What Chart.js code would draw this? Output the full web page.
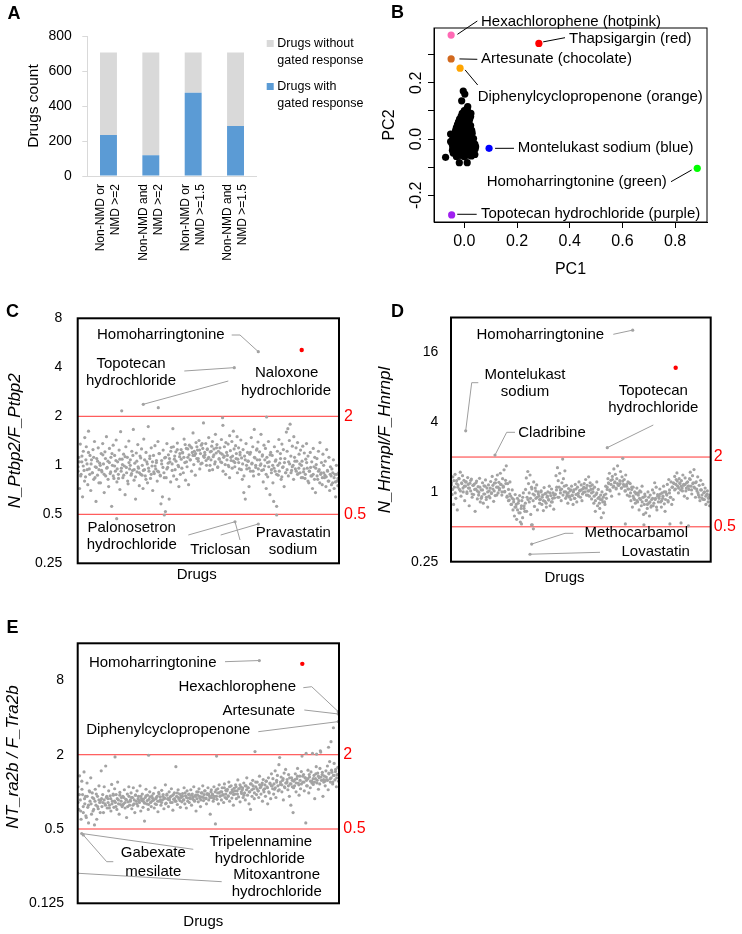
<!DOCTYPE html>
<html><head><meta charset="utf-8">
<script src="https://cdn.jsdelivr.net/npm/chart.js@4.4.1/dist/chart.umd.min.js"></script>
<style>
html,body{margin:0;padding:0;background:#fff;}
#wrap{position:relative;width:742px;height:934px;overflow:hidden;}
#wrap canvas{position:absolute;left:0;top:0;}
</style></head><body>
<div id="wrap">
<canvas id="cA" width="742" height="934"></canvas>
<canvas id="cB" width="742" height="934"></canvas>
<canvas id="cC" width="742" height="934"></canvas>
<canvas id="cD" width="742" height="934"></canvas>
<canvas id="cE" width="742" height="934"></canvas>
</div>
<script>
// ---------------- DATA ----------------
// Panel A
const aCategories = [['Non-NMD or','NMD >=2'],['Non-NMD and','NMD >=2'],['Non-NMD or','NMD >=1.5'],['Non-NMD and','NMD >=1.5']];
const aWithGated = [234, 118, 476, 286];
const aWithoutGated = [472, 588, 230, 420];
const aTicks = [0, 200, 400, 600, 800];

// Panel B (PCA)
const pcClusterX = [-0.030,-0.016,0.000,0.014,0.027, -0.042,-0.030,-0.018,-0.005,0.008,0.020,0.034,
 -0.045,-0.033,-0.020,-0.008,0.005,0.017,0.030,0.041, -0.044,-0.032,-0.020,-0.007,0.006,0.019,0.031,0.043,
 -0.046,-0.034,-0.021,-0.009,0.004,0.016,0.029,0.040, -0.052,-0.043,-0.031,-0.018,-0.006,0.007,0.020,0.033,
 -0.044,-0.030,-0.017,-0.004,0.009,0.022,0.035, -0.040,-0.027,-0.014,-0.001,0.012,0.025,
 -0.052,-0.036,-0.022,-0.009,0.004,0.017,0.030, -0.033,-0.020,-0.007,0.006,0.019,0.028,
 -0.030,-0.017,-0.004,0.009,0.022, -0.026,-0.013,0.000,0.013,0.024, -0.022,-0.009,0.004,0.017,
 -0.018,-0.005,0.008,0.020, -0.012,0.001,0.014,0.024, -0.008,0.005,0.018,0.025, 0.000,0.012,
 0.013,-0.010,-0.004,0.002,0.010, -0.071,-0.019,0.011,0.040];
const pcClusterY = [-0.062,-0.058,-0.063,-0.057,-0.060, -0.050,-0.047,-0.052,-0.049,-0.053,-0.046,-0.050,
 -0.040,-0.037,-0.042,-0.039,-0.036,-0.041,-0.038,-0.035, -0.028,-0.031,-0.027,-0.030,-0.026,-0.029,-0.032,-0.027,
 -0.018,-0.021,-0.017,-0.020,-0.016,-0.019,-0.022,-0.018, -0.009,-0.008,-0.011,-0.007,-0.010,-0.006,-0.009,-0.012,
 0.001,-0.002,0.002,0.000,0.003,-0.001,0.002, 0.011,0.009,0.012,0.010,0.008,0.011,
 0.018,0.021,0.019,0.022,0.020,0.018,0.021, 0.031,0.029,0.032,0.030,0.028,0.031,
 0.041,0.039,0.042,0.040,0.038, 0.051,0.049,0.052,0.050,0.048, 0.061,0.059,0.062,0.060,
 0.071,0.069,0.072,0.070, 0.081,0.079,0.082,0.080, 0.091,0.089,0.092,0.091, 0.101,0.099,
 0.115,0.136,0.171,0.160,0.108, -0.065,-0.084,-0.084,-0.055];
const pcNamed = ['Hexachlorophene (hotpink)','Thapsigargin (red)','Artesunate (chocolate)','Diphenylcyclopropenone (orange)','Montelukast sodium (blue)','Homoharringtonine (green)','Topotecan hydrochloride (purple)'];
const pcNamedX = [-0.050, 0.283, -0.050, -0.016, 0.094, 0.884, -0.048];
const pcNamedY = [0.370, 0.340, 0.285, 0.252, -0.033, -0.104, -0.270];
const pcNamedColors = ['#ff69b4','#ff0000','#d2691e','#ffa500','#0000ff','#00ff00','#a020f0'];
const pcXTicks = [0, 0.2, 0.4, 0.6, 0.8];
const pcYTicks = [-0.2, -0.1, 0, 0.1, 0.2, 0.3];
const pcYLabelled = [-0.2, 0, 0.2];

// Panels C, D, E : ratio per drug (drug index 0..700)
const thresholds = [0.5, 2];
const cTicks = [0.25, 0.5, 1, 2, 4, 8];
const dTicks = [0.25, 1, 4, 16];
const eTicks = [0.125, 0.5, 2, 8];

const cRatios = [
0.98,1.12,0.72,1.35,0.88,1.05,0.64,1.22,0.93,1.48, 0.85,1.30,1.02,0.76,1.62,0.95,1.15,0.70,1.08,0.90,
1.25,0.82,1.40,0.98,0.60,1.10,0.87,1.28,0.94,1.03, 0.78,1.18,0.91,1.36,1.02,0.68,1.21,0.86,1.50,0.97,
1.06,0.74,1.27,0.89,1.12,0.56,1.00,1.33,0.83,1.15, 0.92,1.43,0.79,1.05,0.88,1.24,0.71,1.61,0.96,1.09,
0.84,1.17,0.99,0.66,1.30,0.90,1.12,0.77,1.41,0.95, 1.08,0.87,1.22,0.93,1.66,0.81,1.03,0.62,1.19,0.91,
1.34,0.96,0.75,1.14,0.88,1.26,1.00,0.72,1.45,0.94, 0.86,1.20,1.05,0.78,1.73,0.92,1.10,0.83,1.28,0.99,
0.70,1.15,0.89,1.32,0.95,1.07,0.80,1.40,0.91,1.18, 0.87,0.58,1.02,0.64,1.24,0.90,1.11,0.52,0.84,1.36,
0.97,1.16,0.62,1.05,0.79,1.29,0.93,1.68,0.86,1.09, 0.94,1.21,0.82,1.37,1.00,0.74,1.13,0.88,1.25,0.96,
1.19,0.90,1.45,1.04,0.81,1.27,0.98,1.12,0.76,1.33, 1.08,1.30,0.92,1.20,1.58,1.01,1.15,0.87,1.38,1.10,
1.24,1.06,1.42,0.95,1.18,1.33,1.03,1.27,1.82,1.12, 1.16,1.36,1.00,1.25,1.10,1.48,0.93,1.21,1.08,1.31,
1.40,1.13,1.26,1.02,1.55,1.19,1.34,0.97,1.22,1.09, 1.28,1.05,1.44,1.17,1.76,1.12,1.30,1.01,1.38,1.20,
1.15,1.35,0.98,1.52,1.23,1.07,1.40,1.14,1.62,1.26, 1.04,1.32,1.18,1.50,1.09,1.28,0.95,1.20,1.43,1.11,
0.82,1.25,0.68,1.14,0.62,1.36,0.95,1.20,1.06,0.74, 1.17,0.92,1.48,1.03,1.30,0.86,1.66,1.11,0.97,1.24,
1.08,1.39,0.88,1.21,1.00,1.55,0.93,1.16,0.79,1.33, 0.99,1.27,0.72,1.12,0.85,1.40,1.05,0.66,1.20,0.94,
1.15,0.78,0.60,1.30,0.92,1.08,0.56,1.22,0.87,1.44, 1.03,1.18,0.82,1.35,0.97,1.25,0.74,1.10,0.90,1.60,
1.22,1.68,1.05,1.42,1.79,1.14,0.93,1.31,1.00,1.50, 1.12,0.95,1.28,1.06,1.38,0.89,1.17,1.02,1.24,0.84,
1.06,1.31,0.91,1.19,0.83,1.09,1.36,0.96,1.14,0.78, 0.92,1.20,0.86,1.05,0.72,1.27,0.98,1.12,0.68,1.01,
1.10,0.82,1.22,0.94,1.38,0.88,1.04,0.76,1.17,0.90, 0.84,1.06,0.74,1.25,0.93,0.80,1.12,0.70,0.98,0.86,
0.95,0.78,1.08,0.72,0.88,0.64,1.00,0.80,0.75,0.90];
const cRatiosCore = [
0.92,1.05,0.86,1.14,0.99,0.80,1.08,0.94,1.20,0.88, 1.02,0.90,1.12,0.84,0.97,1.06,0.78,1.00,0.93,1.16,
0.88,1.10,0.96,0.82,1.04,0.91,1.18,0.86,0.99,1.07, 0.95,0.83,1.09,0.92,1.01,0.87,1.13,0.97,0.80,1.04,
1.00,0.89,1.15,0.94,0.85,1.06,0.98,0.90,1.11,0.87, 0.93,1.08,0.82,1.02,0.96,1.14,0.88,1.05,0.91,0.99,
1.04,0.92,1.18,0.86,1.07,0.97,0.84,1.12,0.95,1.03, 1.10,1.22,1.02,1.30,1.14,1.06,1.25,0.98,1.18,1.09,
1.20,1.12,1.34,1.05,1.26,1.16,1.08,1.28,1.15,1.22, 1.18,1.30,1.10,1.24,1.02,1.36,1.14,1.20,1.07,1.26,
1.12,1.00,1.22,0.94,1.16,1.05,1.28,0.98,1.10,1.19, 1.04,0.92,1.14,0.88,1.08,1.00,0.84,1.12,0.96,1.06,
0.98,1.10,0.90,1.04,1.16,0.94,1.02,0.86,1.08,1.00, 1.06,0.96,1.20,1.02,0.92,1.12,1.00,1.26,0.95,1.08,
1.02,1.14,0.94,1.08,0.88,1.04,0.98,1.16,0.90,1.00, 0.96,1.06,0.88,1.00,0.92,1.10,0.85,0.98,1.04,0.90,
0.94,0.86,1.02,0.90,0.98,0.82,1.06,0.92,0.88,0.96, 0.90,1.00,0.84,0.95,0.88,1.04,0.80,0.92,0.97,0.86,
0.88,0.82,0.96,0.86,0.92,0.78,0.90,0.84,1.00,0.87, 0.85,0.92,0.80,0.88,0.76,0.90,0.84,0.79,0.88,0.83];
const cExtraIdx = [117.9, 215.9, 175.7, 388, 506, 104.5, 232, 533, 421.4, 483.8, 483.8, 419.5];
const cExtraVal = [2.16, 2.26, 2.37, 1.96, 1.98, 0.47, 0.495, 0.495, 0.45, 0.436, 4.99, 3.98];
const cRedIdx = [600.1], cRedVal = [5.11];

const dRatios = [
1.20,0.95,1.35,0.78,1.10,1.42,0.88,1.25,0.70,1.15, 1.30,1.05,1.48,0.92,1.18,1.38,1.00,1.26,0.84,1.12,
1.22,0.97,1.33,1.08,0.76,1.19,1.02,1.29,0.90,1.14, 0.95,1.17,0.68,1.06,1.24,0.87,1.11,0.99,1.31,0.82,
1.04,0.91,1.20,0.80,1.13,0.96,1.27,0.86,1.08,0.74, 1.15,1.02,0.89,1.23,0.97,1.36,1.06,0.83,1.19,0.93,
1.28,1.10,1.40,0.98,1.21,1.07,1.45,1.16,0.94,1.30, 1.12,1.55,1.01,1.26,1.68,0.90,1.18,1.05,0.85,1.22,
0.92,0.78,1.04,0.70,0.86,0.62,0.95,0.74,0.58,0.88, 0.80,0.66,0.93,0.55,0.72,0.84,0.60,0.98,0.76,0.68,
1.05,1.32,0.90,1.50,1.18,0.82,1.40,0.64,1.10,0.52, 0.96,1.22,0.75,1.08,0.88,1.15,0.70,1.00,0.92,0.80,
0.86,1.02,0.78,0.94,0.69,1.09,0.83,0.97,0.74,0.90, 1.00,0.85,1.12,0.76,0.93,1.06,0.82,0.98,0.71,0.89,
0.95,1.38,1.10,1.62,1.25,0.90,1.45,1.04,0.84,1.20, 1.92,1.30,1.00,1.52,0.88,1.14,0.96,0.80,1.07,0.92,
1.02,0.86,1.12,0.93,0.78,1.04,0.88,1.16,0.95,0.82, 1.10,0.97,1.22,1.03,0.90,1.15,0.84,1.06,0.99,1.18,
1.08,1.28,0.94,1.14,1.02,1.35,0.92,1.20,1.05,0.87, 1.15,1.00,0.80,1.10,0.68,0.95,1.22,0.76,1.05,0.90,
0.72,0.86,0.60,1.00,0.82,0.66,0.94,0.78,1.12,0.88, 1.05,1.30,1.18,1.45,1.02,1.26,0.92,1.36,1.10,1.58,
1.20,1.42,1.06,1.30,1.68,1.14,0.96,1.25,1.50,1.08, 1.35,1.95,1.16,1.28,1.02,1.40,1.12,0.94,1.22,1.06,
0.92,1.18,0.84,1.05,0.74,1.10,0.88,1.00,0.80,0.96, 1.08,0.82,0.98,0.70,1.02,0.86,0.76,1.12,0.90,0.64,
0.78,0.92,0.66,0.85,0.72,1.00,0.80,0.62,0.94,0.74, 0.86,1.04,0.76,0.98,1.20,0.88,1.10,0.70,0.95,0.82,
0.92,1.06,0.82,0.74,0.98,0.88,1.12,0.79,0.68,1.00, 0.96,1.16,0.84,1.28,1.04,0.90,1.22,0.78,1.10,0.86,
1.18,1.36,1.06,1.28,1.46,1.12,0.98,1.30,1.20,1.04, 1.25,1.08,1.40,1.16,0.92,1.32,1.02,1.20,0.88,1.12,
1.05,1.30,1.48,1.12,0.96,1.38,1.20,1.56,1.08,0.90, 1.22,1.02,1.35,0.94,1.14,0.84,1.26,1.04,0.88,1.16,
0.98,0.86,1.08,0.78,0.94,1.02,0.82,0.90,0.76,0.92];
const dRatiosCore = [
1.15,1.05,1.25,0.98,1.18,1.10,1.30,1.02,1.20,1.08, 1.12,1.22,1.00,1.16,1.08,1.26,0.96,1.14,1.05,1.20,
1.02,0.94,1.10,0.88,1.04,0.96,1.12,0.90,1.00,0.92, 1.08,0.98,1.14,1.02,1.20,0.94,1.10,1.04,1.16,1.00,
1.10,1.00,1.18,0.92,0.84,0.96,0.78,0.88,0.82,0.74, 0.78,0.70,0.84,0.66,0.76,0.90,0.72,0.80,0.68,0.86,
0.98,0.88,1.06,0.84,0.94,1.02,0.90,0.96,0.86,1.00, 0.90,0.84,0.96,0.80,0.92,0.86,0.98,0.82,0.88,0.94,
0.96,1.04,0.90,1.10,0.98,1.06,0.94,1.12,1.00,0.92, 0.98,0.90,1.04,0.94,1.00,0.88,1.06,0.96,0.92,1.02,
1.04,0.96,1.10,1.00,1.08,0.94,1.02,1.12,0.98,1.06, 0.92,0.84,0.98,0.88,0.80,0.94,0.86,0.90,0.82,0.96,
1.10,1.20,1.04,1.16,1.28,1.12,1.22,1.08,1.18,1.14, 1.18,1.08,1.24,1.12,1.02,1.16,1.06,1.20,0.98,1.10,
0.92,0.86,0.98,0.84,0.94,0.88,1.00,0.82,0.90,0.96, 0.84,0.78,0.90,0.82,0.76,0.88,0.80,0.86,0.74,0.92,
0.88,0.96,0.84,0.92,1.00,0.86,0.94,0.82,0.98,0.90, 1.10,1.20,1.04,1.16,1.24,1.08,1.18,1.12,1.02,1.14,
1.16,1.08,1.22,1.12,1.28,1.04,1.18,1.10,1.20,1.06, 0.98,0.90,1.04,0.94,0.86,1.00,0.92,0.96,0.88,0.94];
const dExtraIdx = [190, 217, 222, 470, 520, 590, 620, 640, 489.7, 39.6, 118.6, 421.2, 217.5, 212.9];
const dExtraVal = [0.53, 0.52, 0.48, 0.53, 0.52, 0.53, 0.54, 0.51, 24.9, 3.37, 2.08, 2.41, 0.355, 0.29];
const dRedIdx = [605.6], dRedVal = [11.8];

const eRatios = [
1.10,0.72,1.35,0.86,0.60,1.22,0.95,0.68,1.45,0.80, 0.92,0.62,1.18,0.75,0.56,1.02,0.84,1.30,0.66,0.98,
0.70,0.88,0.54,1.05,0.78,0.60,0.92,0.73,1.12,0.82, 0.85,1.48,0.76,0.95,0.68,1.10,0.80,1.62,0.90,0.74,
0.88,1.02,0.78,0.93,0.70,1.15,0.84,0.96,0.75,1.06, 0.82,0.95,0.72,1.20,0.86,0.66,0.99,0.79,0.90,0.76,
0.92,0.80,1.04,0.74,0.87,0.62,0.96,0.83,1.10,0.78, 0.86,0.98,0.73,0.90,1.08,0.80,0.68,0.94,0.84,1.02,
0.77,0.92,0.85,1.12,0.70,0.88,0.96,0.75,0.83,0.58, 0.90,1.05,0.80,0.94,0.72,0.87,1.00,0.82,0.76,0.93,
0.85,0.97,0.74,1.08,0.88,0.79,0.92,0.69,0.99,0.84, 0.91,0.78,1.03,0.86,0.95,0.73,0.89,1.14,0.81,0.96,
0.88,0.76,1.00,0.90,0.82,1.06,0.93,0.71,0.87,0.98, 0.84,1.60,0.92,0.79,1.04,0.88,0.96,0.75,0.90,0.83,
0.97,0.86,1.08,0.80,0.93,0.74,1.02,0.89,0.95,0.82, 0.90,1.04,0.78,0.96,0.87,1.10,0.84,0.92,0.70,1.00,
0.94,0.83,1.06,0.89,0.76,0.98,0.91,1.12,0.85,0.95, 1.02,0.88,0.80,0.97,1.08,0.86,0.93,0.66,1.00,0.90,
0.96,0.84,1.10,0.92,0.55,1.04,0.87,0.98,0.80,1.14, 0.92,1.00,0.86,1.08,0.95,0.82,1.16,0.90,1.03,0.88,
1.05,0.93,1.20,0.84,0.98,1.12,0.89,1.00,0.78,1.07, 0.96,1.14,0.88,1.02,1.25,0.91,1.06,0.83,1.10,0.97,
1.04,0.90,1.18,0.98,0.86,1.12,1.30,0.94,1.08,0.80, 1.00,0.72,1.16,0.92,1.24,1.06,0.88,2.12,1.10,0.95,
1.20,1.02,0.90,1.34,1.08,0.96,1.14,0.84,1.26,1.00, 1.06,0.92,1.22,1.10,0.80,1.30,0.98,1.18,0.88,1.40,
1.12,1.28,0.96,1.05,1.48,0.90,1.20,1.36,1.02,1.66, 1.90,1.15,1.32,1.00,1.24,0.86,1.42,1.08,1.52,1.18,
1.26,1.04,1.38,0.92,1.16,0.78,1.30,1.10,0.68,1.22, 1.12,1.40,1.00,1.28,1.55,1.18,0.94,1.34,1.06,1.46,
1.95,1.20,1.38,1.02,1.30,0.56,1.24,1.12,1.50,0.98, 1.32,1.08,1.45,1.22,2.05,1.15,1.36,0.88,1.28,1.60,
1.18,1.42,1.05,1.30,1.55,2.10,1.24,1.38,0.92,1.20, 1.34,1.12,1.48,1.26,1.62,1.04,1.40,1.76,1.20,1.30,
1.44,1.16,1.36,1.70,1.25,1.52,1.10,1.38,1.58,1.22];
const eRatiosCore = [
0.82,0.95,0.70,1.05,0.76,0.88,0.64,0.92,0.78,1.00, 0.80,0.90,0.72,0.84,0.96,0.76,0.86,0.68,0.88,0.82,
0.86,0.78,0.92,0.82,0.74,0.88,0.80,0.94,0.84,0.76, 0.88,0.80,0.94,0.84,0.78,0.90,0.82,0.86,0.76,0.92,
0.84,0.90,0.78,0.86,0.94,0.80,0.88,0.82,0.92,0.85, 0.87,0.81,0.93,0.85,0.79,0.91,0.83,0.89,0.86,0.80,
0.90,0.84,0.96,0.86,0.82,0.92,0.88,0.80,0.94,0.87, 0.86,0.92,0.82,0.95,0.88,0.84,0.98,0.90,0.85,0.93,
0.92,0.86,0.98,0.90,0.84,0.96,0.88,0.94,0.91,0.85, 0.94,0.88,1.00,0.92,0.86,0.98,0.90,1.02,0.89,0.95,
0.96,0.90,1.04,0.94,0.88,1.00,0.92,1.06,0.98,0.93, 1.00,0.94,1.08,0.96,1.02,0.92,1.10,0.98,1.04,0.95,
1.02,1.10,0.96,1.06,1.14,1.00,1.08,0.94,1.12,1.04, 1.08,1.00,1.16,1.04,1.12,0.98,1.20,1.06,1.02,1.14,
1.10,1.18,1.04,1.14,1.22,1.08,1.00,1.16,1.12,1.06, 1.16,1.08,1.24,1.12,1.04,1.20,1.14,1.28,1.10,1.18,
1.20,1.12,1.30,1.16,1.24,1.08,1.26,1.18,1.34,1.14, 1.24,1.16,1.34,1.20,1.30,1.12,1.28,1.38,1.22,1.18,
1.28,1.20,1.40,1.24,1.34,1.16,1.32,1.44,1.26,1.22, 1.32,1.24,1.42,1.28,1.50,1.20,1.36,1.46,1.30,1.38];
const eExtraIdx = [100, 190, 372, 612, 640, 650, 672, 486.5, 698, 698, 698, 685, 678.6, 10.7, 15, 0];
const eExtraVal = [1.92, 1.98, 1.95, 2.05, 2.02, 2.15, 2.30, 11.6, 4.47, 4.28, 3.71, 3.31, 2.55, 0.46, 0.447, 0.219];
const eRedIdx = [601.7], eRedVal = [10.9];

// ---------------- HELPERS ----------------
const SANS = "'Liberation Sans', Arial, Helvetica, sans-serif";
Chart.defaults.font.family = SANS;
Chart.defaults.color = '#000';
const GRAY_PT = '#a3a3a3';
const LEADER = '#9e9e9e';

function toPx(chart, p){
  if (Array.isArray(p)) return p;
  return [chart.scales.x.getPixelForValue(p.x) + (p.dx||0), chart.scales.y.getPixelForValue(p.y) + (p.dy||0)];
}
function drawText(ctx, t){
  ctx.save();
  ctx.font = (t.style||'normal') + ' ' + (t.weight||'normal') + ' ' + t.size + 'px ' + SANS;
  ctx.fillStyle = t.color || '#000';
  ctx.textAlign = t.align || 'center';
  ctx.textBaseline = 'middle';
  ctx.translate(t.x, t.y);
  if (t.rot) ctx.rotate(t.rot * Math.PI / 180);
  ctx.fillText(t.t, 0, 0);
  ctx.restore();
}
function deco(cfg){
  return {
    id: 'deco',
    beforeDatasetsDraw(chart){
      const ctx = chart.ctx, a = chart.chartArea;
      ctx.save();
      (cfg.refLines||[]).forEach(v => {
        const y = chart.scales.y.getPixelForValue(v);
        ctx.strokeStyle = cfg.refColor || '#ff0000';
        ctx.lineWidth = 1;
        ctx.beginPath(); ctx.moveTo(a.left, y); ctx.lineTo(a.right, y); ctx.stroke();
      });
      (cfg.leaders||[]).forEach(L => {
        ctx.strokeStyle = cfg.leaderColor || LEADER;
        ctx.lineWidth = 1;
        ctx.beginPath();
        L.forEach((p, k) => { const q = toPx(chart, p); if (k) ctx.lineTo(q[0], q[1]); else ctx.moveTo(q[0], q[1]); });
        ctx.stroke();
      });
      ctx.restore();
    },
    afterDraw(chart){
      const ctx = chart.ctx, a = chart.chartArea;
      ctx.save();
      if (cfg.box){
        ctx.strokeStyle = '#000'; ctx.lineWidth = cfg.box;
        ctx.strokeRect(a.left, a.top, a.right - a.left, a.bottom - a.top);
      }
      (cfg.rects||[]).forEach(r => { ctx.fillStyle = r.c; ctx.fillRect(r.x, r.y, r.w, r.h); });
      if (cfg.yLabels){
        const Y = cfg.yLabels;
        Y.vals.forEach(v => drawText(ctx, {t: v.toFixed(1), x: Y.x, y: chart.scales.y.getPixelForValue(v), size: Y.size, rot: -90}));
      }
      (cfg.texts||[]).forEach(t => drawText(ctx, t));
      ctx.restore();
    }
  };
}
const base = {responsive:false, animation:false, devicePixelRatio:1, events:[],
  plugins:{legend:{display:false}, tooltip:{enabled:false}}};
function pts(xs, ys){ return xs.map((x,i) => ({x, y: ys[i]})); }
function idxPts(vals, shift){ return vals.map((v,k) => ({x:(k+shift)*700/vals.length, y:v})); }

// ---------------- PANEL A ----------------
new Chart(document.getElementById('cA'), {
  type:'bar',
  data:{labels:aCategories, datasets:[
    {label:'Drugs with gated response', data:aWithGated, backgroundColor:'#5b9bd5', barPercentage:0.8, categoryPercentage:0.5},
    {label:'Drugs without gated response', data:aWithoutGated, backgroundColor:'#d9d9d9', barPercentage:0.8, categoryPercentage:0.5}
  ]},
  options:Object.assign({}, base, {
    layout:{padding:{left:10, top:36, right:742-256.7, bottom:934-176-85}},
    scales:{
      x:{stacked:true, grid:{display:false, drawTicks:false}, border:{display:true, color:'#d9d9d9'},
         ticks:{minRotation:90, maxRotation:90, autoSkip:false, padding:8, labelOffset:-7.5, font:{size:12, lineHeight:15/12}, color:'#000'},
         afterFit:s=>{s.height=85;}},
      y:{stacked:true, min:0, max:800, afterBuildTicks:s=>{s.ticks=aTicks.map(v=>({value:v}));},
         ticks:{font:{size:14}, color:'#000', padding:10.5},
         grid:{drawOnChartArea:false, tickLength:5, color:'#d9d9d9'}, border:{display:true, color:'#d9d9d9'},
         title:{display:true, text:'Drugs count', font:{size:15.5}, color:'#000', padding:{top:14, bottom:0}},
         afterFit:s=>{s.width=77.3;}}
    }
  }),
  plugins:[deco({
    rects:[{x:266.7,y:40,w:7,h:7,c:'#d9d9d9'},{x:266.7,y:83,w:7,h:7,c:'#5b9bd5'}],
    texts:[
      {t:'A', x:14, y:14, size:18, weight:'bold'},
      {t:'Drugs without', x:277.3, y:43.3, size:12.5, align:'left'},
      {t:'gated response', x:277.3, y:61, size:12.5, align:'left'},
      {t:'Drugs with', x:277.3, y:86.7, size:12.5, align:'left'},
      {t:'gated response', x:277.3, y:103.3, size:12.5, align:'left'}
    ]})]
});

// ---------------- PANEL B ----------------
new Chart(document.getElementById('cB'), {
  type:'scatter',
  data:{datasets:[
    {data:pts(pcClusterX, pcClusterY), backgroundColor:'#000', borderWidth:0, pointRadius:3.6},
    {data:pts(pcNamedX, pcNamedY), backgroundColor:pcNamedColors, borderWidth:0, pointRadius:3.6}
  ]},
  options:Object.assign({}, base, {
    layout:{padding:{left:374, top:28, right:742-707, bottom:934-282}},
    scales:{
      x:{type:'linear', min:-0.115, max:0.921, afterBuildTicks:s=>{s.ticks=pcXTicks.map(v=>({value:v}));},
         ticks:{callback:v=>v.toFixed(1), font:{size:16}, color:'#000', padding:4},
         grid:{drawOnChartArea:false, tickLength:6, color:'#000'}, border:{display:true, color:'#000'},
         title:{display:true, text:'PC1', font:{size:16}, color:'#000', padding:{top:0, bottom:2.4}},
         afterFit:s=>{s.height=60;}},
      y:{type:'linear', min:-0.295, max:0.395, afterBuildTicks:s=>{s.ticks=pcYTicks.map(v=>({value:v}));},
         ticks:{display:false},
         grid:{drawOnChartArea:false, tickLength:6, color:'#000'}, border:{display:true, color:'#000'},
         title:{display:true, text:'PC2', font:{size:16}, color:'#000', padding:{top:6.4, bottom:0}},
         afterFit:s=>{s.width=60;}}
    }
  }),
  plugins:[deco({
    box:1, leaderColor:'#000',
    yLabels:{vals:pcYLabelled, x:417, size:16},
    leaders:[
      [{x:pcNamedX[0], y:pcNamedY[0], dx:6.3, dy:-0.7}, [477.3,21]],
      [{x:pcNamedX[1], y:pcNamedY[1], dx:4.3, dy:-1.6}, [565,37.7]],
      [{x:pcNamedX[2], y:pcNamedY[2], dx:8.3, dy:0}, [477.3,59.3]],
      [{x:pcNamedX[3], y:pcNamedY[3], dx:5, dy:1.7}, [477.7,85]],
      [{x:pcNamedX[4], y:pcNamedY[4], dx:6, dy:0}, [514,148.3]],
      [{x:pcNamedX[5], y:pcNamedY[5], dx:-5.6, dy:1.7}, [671,181.7]],
      [{x:pcNamedX[6], y:pcNamedY[6], dx:5.6, dy:-0.7}, [476.7,214.3]]
    ],
    texts:[
      {t:'B', x:397.5, y:13, size:18, weight:'bold'},
      {t:pcNamed[0], x:481, y:21.7, size:15, align:'left'},
      {t:pcNamed[1], x:569, y:38.7, size:15, align:'left'},
      {t:pcNamed[2], x:481, y:59.3, size:15, align:'left'},
      {t:pcNamed[3], x:477.7, y:96.7, size:15, align:'left'},
      {t:pcNamed[4], x:517.7, y:148.3, size:15, align:'left'},
      {t:pcNamed[5], x:486.7, y:181.7, size:15, align:'left'},
      {t:pcNamed[6], x:481, y:214.3, size:15, align:'left'}
    ]})]
});

// ---------------- PANELS C, D, E ----------------
function ratioChart(id, o){
  return new Chart(document.getElementById(id), {
    type:'scatter',
    data:{datasets:[
      {data:idxPts(o.bulk, 0.5), backgroundColor:GRAY_PT, borderWidth:0, pointRadius:1.6},
      {data:idxPts(o.core, 0.25), backgroundColor:GRAY_PT, borderWidth:0, pointRadius:1.6},
      {data:pts(o.exIdx, o.exVal), backgroundColor:GRAY_PT, borderWidth:0, pointRadius:1.6},
      {data:pts(o.redIdx, o.redVal), backgroundColor:'#ff0000', borderWidth:0, pointRadius:2.2}
    ]},
    options:Object.assign({}, base, {
      layout:{padding:o.pad},
      scales:{
        x:{type:'linear', display:false, min:0, max:700},
        y:{type:'logarithmic', position:'left', min:o.min, max:o.max,
           afterBuildTicks:s=>{s.ticks=o.ticks.map(v=>({value:v}));},
           ticks:{callback:v=>String(v), font:{size:14}, color:'#000', padding:o.tickPad},
           grid:{display:false, drawTicks:false}, border:{display:false},
           afterFit:s=>{s.width=o.yW;}},
        y2:{type:'logarithmic', position:'right', min:o.min, max:o.max,
           afterBuildTicks:s=>{s.ticks=thresholds.map(v=>({value:v}));},
           ticks:{callback:v=>String(v), font:{size:16}, color:'#ff0000', padding:o.redPad},
           grid:{display:false, drawTicks:false}, border:{display:false},
           afterFit:s=>{s.width=o.y2W;}}
      }
    }),
    plugins:[deco({box:2, refLines:thresholds, refColor:'rgba(255,0,0,0.8)', leaders:o.leaders, texts:o.texts})]
  });
}

ratioChart('cC', {
  bulk:cRatios, core:cRatiosCore, exIdx:cExtraIdx, exVal:cExtraVal, redIdx:cRedIdx, redVal:cRedVal,
  min:0.25, max:8, ticks:cTicks, tickPad:15.4, redPad:5, yW:77.7, y2W:30,
  pad:{left:0, top:318.3, right:373, bottom:934-563.3},
  leaders:[
    [[231.7,335],[240,335],{x:483.8,y:4.99}],
    [[184.3,371],{x:419.5,y:3.98}],
    [[228.3,381],{x:175.7,y:2.37}],
    [[188.3,535],{x:421.4,y:0.45}],
    [[240,540],{x:421.4,y:0.45}],
    [[220.7,535],{x:483.8,y:0.436}]
  ],
  texts:[
    {t:'C', x:12.5, y:312.5, size:18, weight:'bold'},
    {t:'N_Ptbp2/F_Ptbp2', x:15.5, y:440.8, size:17, style:'italic', rot:-90},
    {t:'Drugs', x:196.7, y:575, size:15},
    {t:'Homoharringtonine', x:160.8, y:335, size:15},
    {t:'Topotecan', x:131, y:364.3, size:15},
    {t:'hydrochloride', x:131, y:381, size:15},
    {t:'Naloxone', x:286.7, y:373.3, size:15},
    {t:'hydrochloride', x:286, y:391, size:15},
    {t:'Palonosetron', x:131.7, y:528.3, size:15},
    {t:'hydrochloride', x:131.7, y:545, size:15},
    {t:'Triclosan', x:220.3, y:550, size:15},
    {t:'Pravastatin', x:293.3, y:533.3, size:15},
    {t:'sodium', x:293, y:550, size:15}
  ]
});

ratioChart('cD', {
  bulk:dRatios, core:dRatiosCore, exIdx:dExtraIdx, exVal:dExtraVal, redIdx:dRedIdx, redVal:dRedVal,
  min:0.25, max:32, ticks:dTicks, tickPad:12.7, redPad:3, yW:60, y2W:25,
  pad:{left:391, top:317.5, right:742-710.7-25, bottom:934-561.7},
  leaders:[
    [[613.3,334.3],{x:489.7,y:24.9}],
    [[478.3,382.7],[471.7,382.7],{x:39.6,y:3.37}],
    [[515,432.3],[506.7,432.3],{x:118.6,y:2.08}],
    [[653.3,425],{x:421.2,y:2.41}],
    [[573.3,533.3],[565,533.3],{x:217.5,y:0.355}],
    [[600,552.3],{x:212.9,y:0.29}]
  ],
  texts:[
    {t:'D', x:397.5, y:312.5, size:18, weight:'bold'},
    {t:'N_Hnrnpl/F_Hnrnpl', x:385, y:440, size:17, style:'italic', rot:-90},
    {t:'Drugs', x:564.5, y:578, size:15},
    {t:'Homoharringtonine', x:540.3, y:335, size:15},
    {t:'Montelukast', x:525, y:375, size:15},
    {t:'sodium', x:525, y:391.7, size:15},
    {t:'Cladribine', x:552, y:433.3, size:15},
    {t:'Topotecan', x:653.3, y:391, size:15},
    {t:'hydrochloride', x:653.3, y:408.3, size:15},
    {t:'Methocarbamol', x:636.3, y:533.3, size:15},
    {t:'Lovastatin', x:655.7, y:552.3, size:15}
  ]
});

ratioChart('cE', {
  bulk:eRatios, core:eRatiosCore, exIdx:eExtraIdx, exVal:eExtraVal, redIdx:eRedIdx, redVal:eRedVal,
  min:0.125, max:16, ticks:eTicks, tickPad:13.7, redPad:4.3, yW:77.7, y2W:30,
  pad:{left:0, top:643.3, right:373, bottom:934-903.3},
  leaders:[
    [[225,661.7],{x:486.5,y:11.6}],
    [[303.3,687.7],[311.7,686.7],{x:698,y:4.47}],
    [[304.3,710],{x:698,y:4.28}],
    [[258.3,731.7],{x:698,y:3.71}],
    [[193.3,849.3],{x:10.7,y:0.46}],
    [[113.3,861.7],[106.7,861.7],{x:15,y:0.447}],
    [[221.7,881.7],{x:0,y:0.219}]
  ],
  texts:[
    {t:'E', x:12.5, y:628.3, size:18, weight:'bold'},
    {t:'NT_ra2b / F_Tra2b', x:13.3, y:757, size:17, style:'italic', rot:-90},
    {t:'Drugs', x:203.3, y:921.7, size:15},
    {t:'Homoharringtonine', x:152.7, y:663.3, size:15},
    {t:'Hexachlorophene', x:237.2, y:687.3, size:15},
    {t:'Artesunate', x:258.8, y:710.7, size:15},
    {t:'Diphenylcyclopropenone', x:168.3, y:730, size:15},
    {t:'Tripelennamine', x:260.8, y:841.7, size:15},
    {t:'hydrochloride', x:259.7, y:859.3, size:15},
    {t:'Gabexate', x:153.3, y:853.3, size:15},
    {t:'mesilate', x:153.3, y:871.7, size:15},
    {t:'Mitoxantrone', x:276.7, y:875, size:15},
    {t:'hydrochloride', x:276.7, y:891.7, size:15}
  ]
});
</script>
</body></html>
